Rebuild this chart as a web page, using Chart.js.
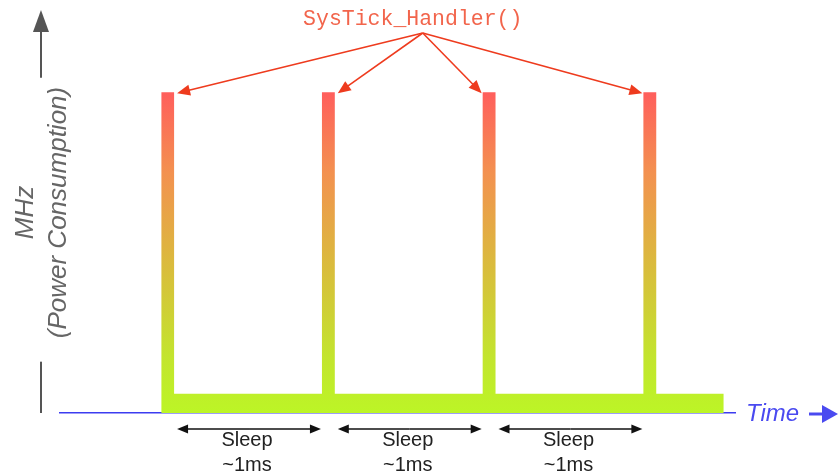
<!DOCTYPE html>
<html>
<head>
<meta charset="utf-8">
<script src="https://cdn.jsdelivr.net/npm/chart.js@4"></script>
<style>
  html, body { margin: 0; padding: 0; background: #fff; }
  #wrap { width: 838px; height: 474px; }
</style>
</head>
<body>
<div id="wrap"><canvas id="chart"></canvas></div>
<script>
// SysTick firings (ms) and the clock levels
const tickTimes = [0, 1, 2, 3];
const activeMHz = 100;
const sleepMHz = 6;
const pulseWidth = 0.08;
const traceEnd = 3.5;

const handlerLabel = 'SysTick_Handler()';
const sleepLabel = ['Sleep', '~1ms'];
const yTitle = ['MHz', '(Power Consumption)'];
const xTitle = 'Time';

const buildTrace = function () {
    const pts = [];
    tickTimes.forEach((t, i) => {
        if (i > 0) pts.push({x: t, y: sleepMHz});
        pts.push({x: t, y: activeMHz});
        pts.push({x: t + pulseWidth, y: activeMHz});
        pts.push({x: t + pulseWidth, y: sleepMHz});
    });
    pts.push({x: traceEnd, y: sleepMHz});
    return pts;
};

const traceFill = function (context) {
    const chart = context.chart;
    if (!chart.chartArea) return null;
    const y = chart.scales.y;
    const g = chart.ctx.createLinearGradient(0, y.getPixelForValue(activeMHz), 0, y.getPixelForValue(0));
    g.addColorStop(0, '#ff5e5c');
    g.addColorStop(0.25, '#f39150');
    g.addColorStop(0.55, '#d9bd3c');
    g.addColorStop(0.82, '#c3e42e');
    g.addColorStop(1, '#bcf526');
    return g;
};

const arrow = function (ctx, x1, y1, x2, y2, len, half) {
    const a = Math.atan2(y2 - y1, x2 - x1);
    const c = Math.cos(a), s = Math.sin(a);
    ctx.beginPath();
    ctx.moveTo(x1, y1);
    ctx.lineTo(x2 - c * len * 0.7, y2 - s * len * 0.7);
    ctx.stroke();
    ctx.beginPath();
    ctx.moveTo(x2, y2);
    ctx.lineTo(x2 - len * c + half * s, y2 - len * s - half * c);
    ctx.lineTo(x2 - len * c - half * s, y2 - len * s + half * c);
    ctx.closePath();
    ctx.fill();
};

const notes = {
    id: 'notes',
    afterDraw(chart) {
        const ctx = chart.ctx;
        const area = chart.chartArea;
        const xs = chart.scales.x;
        const ys = chart.scales.y;
        ctx.save();

        // gray y axis arrow, broken around the title
        const ax = area.left - 19;
        ctx.strokeStyle = '#555';
        ctx.fillStyle = '#555';
        ctx.lineWidth = 2;
        arrow(ctx, ax, ys.getPixelForValue(104.5), ax, area.top - 2, 22, 8);
        ctx.beginPath();
        ctx.moveTo(ax, ys.getPixelForValue(16));
        ctx.lineTo(ax, area.bottom);
        ctx.stroke();

        // SysTick_Handler() callout
        const last = tickTimes[tickTimes.length - 1];
        const left = xs.getPixelForValue(tickTimes[0]);
        const right = xs.getPixelForValue(last + pulseWidth);
        const cx = (left + right) / 2 + 4;
        ctx.font = '21.5px "Liberation Mono", "Courier New", monospace';
        ctx.fillStyle = '#f2654c';
        ctx.textAlign = 'center';
        ctx.textBaseline = 'middle';
        ctx.fillText(handlerLabel, cx, area.top + 7);
        const ox = cx + 10, oy = area.top + 21;
        const topY = ys.getPixelForValue(activeMHz);
        ctx.strokeStyle = '#ee3b1e';
        ctx.fillStyle = '#ee3b1e';
        ctx.lineWidth = 1.6;
        tickTimes.forEach(t => {
            const tx = xs.getPixelForValue(t) < ox ? xs.getPixelForValue(t + pulseWidth) + 3 : xs.getPixelForValue(t) - 1;
            arrow(ctx, ox, oy, tx, topY + 1, 13, 5.5);
        });

        // sleep spans
        ctx.strokeStyle = '#111';
        ctx.fillStyle = '#111';
        ctx.lineWidth = 1.5;
        ctx.font = '20px "Liberation Sans", Arial, sans-serif';
        for (let i = 0; i < tickTimes.length - 1; i++) {
            const a = xs.getPixelForValue(tickTimes[i] + pulseWidth) + 3;
            const b = xs.getPixelForValue(tickTimes[i + 1]) - 1;
            const y = area.bottom + 16;
            const m = (a + b) / 2;
            arrow(ctx, m, y, b, y, 11, 4.5);
            arrow(ctx, m, y, a, y, 11, 4.5);
            ctx.fillStyle = '#222';
            ctx.fillText(sleepLabel[0], m - 2, area.bottom + 27);
            ctx.fillText(sleepLabel[1], m - 2, area.bottom + 52);
            ctx.fillStyle = '#111';
        }

        // Time label
        ctx.fillStyle = '#4a4af0';
        ctx.strokeStyle = '#4a4af0';
        ctx.font = 'italic 24px "Liberation Sans", Arial, sans-serif';
        ctx.textAlign = 'left';
        ctx.fillText(xTitle, area.right + 11, area.bottom + 1);
        ctx.lineWidth = 3;
        arrow(ctx, area.right + 74, area.bottom + 1, area.right + 103, area.bottom + 1, 16, 9);
        ctx.restore();
    }
};

const ctx = document.getElementById('chart').getContext('2d');
new Chart(ctx, {
    type: 'scatter',
    data: {
        datasets: [{
            label: 'Clock',
            data: buildTrace(),
            showLine: true,
            fill: 'origin',
            backgroundColor: traceFill,
            borderWidth: 0,
            pointRadius: 0,
            tension: 0
        }]
    },
    options: {
        responsive: true,
        maintainAspectRatio: false,
        animation: false,
        layout: {padding: {top: 12, right: 103, bottom: 61, left: 0}},
        plugins: {legend: {display: false}, tooltip: {enabled: false}},
        scales: {
            x: {
                type: 'linear',
                min: -0.63,
                max: 3.57,
                ticks: {display: false},
                grid: {display: false, drawTicks: false},
                border: {color: '#3c3cf0', width: 1.5}
            },
            y: {
                min: 0,
                max: 125,
                ticks: {display: false},
                grid: {display: false, drawTicks: false},
                border: {display: false},
                title: {
                    display: true,
                    text: yTitle,
                    color: '#666',
                    font: {family: '"Liberation Sans", Arial, sans-serif', size: 26, style: 'italic', lineHeight: 1.24},
                    padding: {top: 10, bottom: -14.5}
                }
            }
        }
    },
    plugins: [notes]
});
</script>
</body>
</html>
